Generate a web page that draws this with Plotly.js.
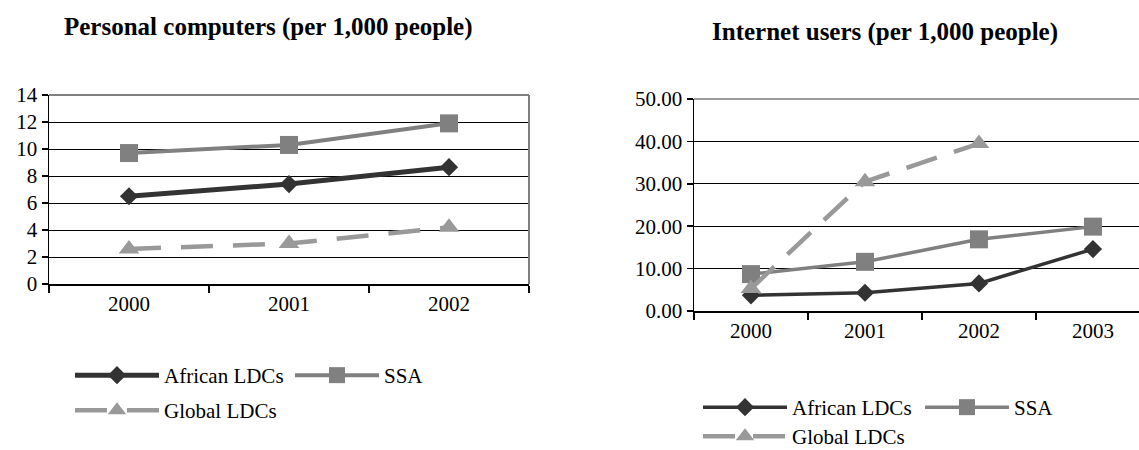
<!DOCTYPE html>
<html>
<head>
<meta charset="utf-8">
<script src="https://cdn.plot.ly/plotly-3.0.1.min.js"></script>
<style>
html,body{margin:0;padding:0;background:#fff;overflow:hidden;}
#chart{width:1139px;height:450px;}
</style>
</head>
<body>
<div id="chart"></div>
<script>
// ---- data ----
const pcYears = ["2000", "2001", "2002"];
const pcAfricanLDCs = [6.5, 7.4, 8.65];
const pcSSA = [9.7, 10.3, 11.9];
const pcGlobalLDCs = [2.6, 3.0, 4.2];

const netYears = ["2000", "2001", "2002", "2003"];
const netAfricanLDCs = [3.7, 4.3, 6.5, 14.6];
const netSSA = [8.7, 11.6, 16.9, 19.9];
const netGlobalLDCs = [5.3, 30.5, 39.5];

const seriesNames = ["African LDCs", "SSA", "Global LDCs"];
const pcTitle = "Personal computers (per 1,000 people)";
const netTitle = "Internet users (per 1,000 people)";

// ---- styles ----
const FONT = "Liberation Serif";
const cAfr = "#333333", cSSA = "#808080", cGlo = "#999999";

function tr(x, y, name, xa, ya, legend, style) {
  return Object.assign({
    type: "scatter", mode: "lines+markers", x: x, y: y, name: name,
    xaxis: xa, yaxis: ya, legend: legend, hoverinfo: "skip", cliponaxis: false
  }, style);
}

const afrStyleL = {line: {color: cAfr, width: 5}, marker: {symbol: "diamond", size: 14, color: cAfr}};
const ssaStyleL = {line: {color: cSSA, width: 4}, marker: {symbol: "square", size: 18, color: cSSA}};
const gloStyleL = {line: {color: cGlo, width: 4.5, dash: "32px,20px"}, marker: {symbol: "triangle-up", size: 18, color: cGlo}};
const afrStyleR = {line: {color: cAfr, width: 3.5}, marker: {symbol: "diamond", size: 14, color: cAfr}};
const ssaStyleR = {line: {color: cSSA, width: 3.5}, marker: {symbol: "square", size: 18, color: cSSA}};
const gloStyleR = {line: {color: cGlo, width: 4.5, dash: "32px,18px"}, marker: {symbol: "triangle-up", size: 18, color: cGlo}};

const data = [
  tr(pcYears, pcAfricanLDCs, seriesNames[0], "x", "y", "legend", afrStyleL),
  tr(pcYears, pcSSA, seriesNames[1], "x", "y", "legend", ssaStyleL),
  tr(pcYears, pcGlobalLDCs, seriesNames[2], "x", "y", "legend3", gloStyleL),
  tr(netYears, netAfricanLDCs, seriesNames[0], "x2", "y2", "legend2", afrStyleR),
  tr(netYears, netSSA, seriesNames[1], "x2", "y2", "legend2", ssaStyleR),
  tr(netYears.slice(0, netGlobalLDCs.length), netGlobalLDCs, seriesNames[2], "x2", "y2", "legend4", gloStyleR)
];

const W = 1139, H = 450;
const tickFont = {family: FONT, size: 21, color: "#000"};
function xax(domain, range) {
  return {
    domain: domain, type: "category", range: range, tickson: "boundaries",
    ticks: "outside", ticklen: 7, tickcolor: "#000", tickwidth: 1.5,
    showline: true, linecolor: "#000", linewidth: 1.5, showgrid: false,
    zeroline: false, tickfont: tickFont, fixedrange: true
  };
}
function yax(domain, range, dtick, fmt, anchor) {
  return {
    domain: domain, range: range, dtick: dtick, tickformat: fmt, anchor: anchor,
    ticks: "outside", ticklen: 6, tickcolor: "#000", tickwidth: 1.5,
    showline: true, linecolor: "#000", linewidth: 1.5,
    showgrid: true, gridcolor: "#000", gridwidth: 1, zeroline: false,
    tickfont: tickFont, fixedrange: true
  };
}
const legFont = {family: FONT, size: 21, color: "#000"};
function leg(x, y, ew) {
  return {x: x, y: y, xanchor: "left", yanchor: "top", orientation: "h",
    font: legFont, itemwidth: 84, entrywidth: ew, entrywidthmode: "pixels",
    bgcolor: "rgba(0,0,0,0)", borderwidth: 0, itemclick: false, itemdoubleclick: false};
}

const layout = {
  width: W, height: H,
  margin: {l: 0, r: 0, t: 0, b: 0, autoexpand: false},
  paper_bgcolor: "#fff", plot_bgcolor: "#fff",
  font: {family: FONT, color: "#000"},
  xaxis: Object.assign(xax([49 / W, 529 / W], [-0.5, 2.5]), {anchor: "y"}),
  yaxis: yax([1 - 284 / H, 1 - 95 / H], [0, 14], 2, "d", "x"),
  xaxis2: Object.assign(xax([694 / W, 1], [-0.5, 3.404]), {anchor: "y2"}),
  yaxis2: yax([1 - 311 / H, 1 - 99 / H], [0, 50], 10, ".2f", "x2"),
  legend: leg(70 / W, 1 - 355 / H, 121),
  legend3: leg(70 / W, 1 - 390 / H, 121),
  legend2: leg(698 / W, 1 - 387 / H, 123),
  legend4: leg(698 / W, 1 - 416 / H, 123),
  shapes: [
    {type: "line", xref: "x domain", yref: "y domain", x0: 0, x1: 1, y0: 1, y1: 1, line: {color: "#808080", width: 2}},
    {type: "line", xref: "x domain", yref: "y domain", x0: 1, x1: 1, y0: 0, y1: 1, line: {color: "#808080", width: 2}},
    {type: "line", xref: "x2 domain", yref: "y2 domain", x0: 0, x1: 1, y0: 1, y1: 1, line: {color: "#9a9a9a", width: 2}}
  ],
  annotations: [
    {text: pcTitle, xref: "paper", yref: "paper", x: 268 / W, y: 1 - 27 / H, xanchor: "center", yanchor: "middle",
      showarrow: false, font: {family: FONT, size: 25, color: "#000", weight: "bold"}},
    {text: netTitle, xref: "paper", yref: "paper", x: 885 / W, y: 1 - 32 / H, xanchor: "center", yanchor: "middle",
      showarrow: false, font: {family: FONT, size: 25, color: "#000", weight: "bold"}}
  ],
  showlegend: true
};

Plotly.newPlot("chart", data, layout, {staticPlot: true, displayModeBar: false}).then(function (gd) {
  // lengthen legend line samples to match the reference (about 84px, marker in middle)
  gd.querySelectorAll("g.legendlines path.js-line").forEach(function (p) {
    p.setAttribute("d", "M5,0h84");
  });
  gd.querySelectorAll("g.legendpoints path.scatterpts").forEach(function (p) {
    p.setAttribute("transform", "translate(47,0)");
  });
});
</script>
</body>
</html>
